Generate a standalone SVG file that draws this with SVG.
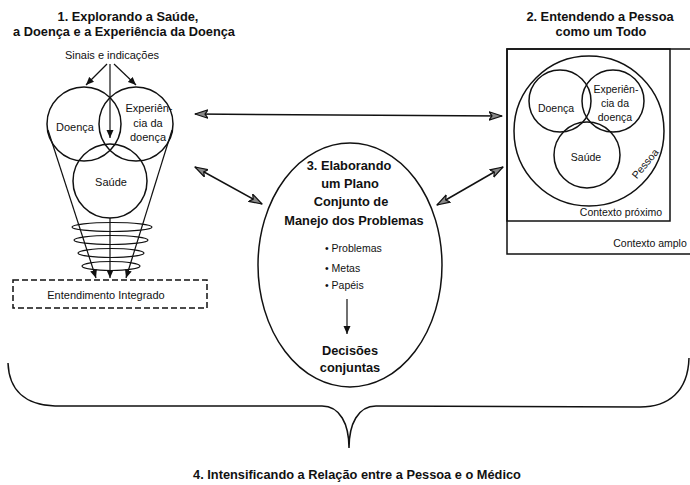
<svg xmlns="http://www.w3.org/2000/svg" width="690" height="485" viewBox="0 0 690 485">
<style>
  .ln{fill:none;stroke:#111;stroke-width:1.5}
  .thin{fill:none;stroke:#111;stroke-width:1.2}
  .t{font-family:"Liberation Sans",Arial,sans-serif;fill:#111;text-anchor:middle}
  .b{font-weight:bold;font-size:12.8px}
  .r{font-size:11px}
  .s{font-size:10.5px}
</style>
<defs>
  <marker id="big" markerUnits="userSpaceOnUse" markerWidth="14" markerHeight="10" refX="13" refY="5" orient="auto-start-reverse" viewBox="0 0 14 10">
    <path d="M0,0.8 L13,5 L0,9.2 L3,5 Z" fill="#888" stroke="#111" stroke-width="1.2" stroke-linejoin="round"/>
  </marker>
  <marker id="sm" markerUnits="userSpaceOnUse" markerWidth="9" markerHeight="8" refX="8" refY="4" orient="auto" viewBox="0 0 9 8">
    <path d="M0,0.5 L8,4 L0,7.5 Z" fill="#111"/>
  </marker>
</defs>
<rect width="690" height="485" fill="#fff"/>

<g id="node1">
  <text class="t b" x="128" y="21">1. Explorando a Saúde,</text>
  <text class="t b" x="124" y="36">a Doença e a Experiência da Doença</text>
  <text class="t r" x="112" y="59">Sinais e indicações</text>
  <circle class="ln" cx="84" cy="124" r="37"/>
  <circle class="ln" cx="136" cy="124" r="37"/>
  <circle class="ln" cx="110" cy="181" r="37"/>
  <text class="t r" x="75" y="131">Doença</text>
  <text class="t r" x="149" y="112">Experiên-</text>
  <text class="t r" x="148" y="127">cia da</text>
  <text class="t r" x="148" y="141">doença</text>
  <text class="t r" x="111" y="186">Saúde</text>
  <line class="thin" x1="48" y1="130" x2="96" y2="278" marker-end="url(#sm)"/>
  <line class="thin" x1="172" y1="130" x2="126" y2="278" marker-end="url(#sm)"/>
  <line class="thin" x1="110" y1="218" x2="110" y2="278" marker-end="url(#sm)"/>
  <ellipse class="thin" cx="112" cy="227" rx="40" ry="4.5"/>
  <ellipse class="thin" cx="111" cy="240" rx="37" ry="4.5"/>
  <ellipse class="thin" cx="111" cy="253" rx="33" ry="4.5"/>
  <ellipse class="thin" cx="111" cy="266" rx="29" ry="4.5"/>
  <rect x="13" y="280" width="194" height="28" fill="none" stroke="#111" stroke-width="1.5" stroke-dasharray="6,3"/>
  <text class="t r" x="106" y="299">Entendimento Integrado</text>
</g>

<g id="node2">
  <text class="t b" x="600" y="21">2. Entendendo a Pessoa</text>
  <text class="t b" x="601" y="36">como um Todo</text>
  <rect class="ln" x="507" y="49" width="186" height="205"/>
  <rect class="ln" x="507" y="49" width="163" height="172"/>
  <circle class="ln" cx="589" cy="131" r="75"/>
  <circle class="ln" cx="560" cy="101" r="31"/>
  <circle class="ln" cx="613" cy="101" r="31"/>
  <circle class="ln" cx="587" cy="155" r="33"/>
  <text class="t s" x="556" y="112">Doença</text>
  <text class="t s" x="616" y="93">Experiên-</text>
  <text class="t s" x="615" y="107">cia da</text>
  <text class="t s" x="615" y="121">doença</text>
  <text class="t s" x="586" y="161">Saúde</text>
  <text class="t s" x="0" y="0" transform="translate(648,166) rotate(-50)">Pessoa</text>
  <text class="t s" x="621" y="216">Contexto próximo</text>
  <text class="t s" x="650" y="247">Contexto amplo</text>
</g>

<g id="node3">
  <ellipse class="ln" cx="350" cy="265" rx="92" ry="122"/>
  <text class="t b" x="349" y="170">3. Elaborando</text>
  <text class="t b" x="350" y="188">um Plano</text>
  <text class="t b" x="351" y="206">Conjunto de</text>
  <text class="t b" x="354" y="225">Manejo dos Problemas</text>
  <text class="t s" x="325" y="252" style="text-anchor:start">• Problemas</text>
  <text class="t s" x="325" y="272" style="text-anchor:start">• Metas</text>
  <text class="t s" x="325" y="289" style="text-anchor:start">• Papéis</text>
  <text class="t b" x="350" y="355">Decisões</text>
  <text class="t b" x="350" y="372">conjuntas</text>
</g>

<g id="node4">
  <text class="t b" x="357" y="479">4. Intensificando a Relação entre a Pessoa e o Médico</text>
</g>

<g id="connectors">
  <line class="thin" x1="107" y1="64" x2="86" y2="85" marker-end="url(#sm)"/>
  <line class="thin" x1="114" y1="64" x2="136" y2="85" marker-end="url(#sm)"/>
  <line class="thin" x1="110" y1="64" x2="110" y2="138" marker-end="url(#sm)"/>
  <line class="ln" x1="195" y1="114" x2="502" y2="116" marker-start="url(#big)" marker-end="url(#big)"/>
  <line class="ln" x1="195" y1="167" x2="262" y2="204" marker-start="url(#big)" marker-end="url(#big)"/>
  <line class="ln" x1="503" y1="167" x2="437" y2="205" marker-start="url(#big)" marker-end="url(#big)"/>
  <line class="thin" x1="347" y1="299" x2="347" y2="334" marker-end="url(#sm)"/>
  <path class="ln" d="M8,363 C9,390 25,405 55,406 L322,406 C340,406 349,424 349,448 C349,424 358,406 376,406 L640,407 C668,407 688,392 689,358"/>
</g>
</svg>
